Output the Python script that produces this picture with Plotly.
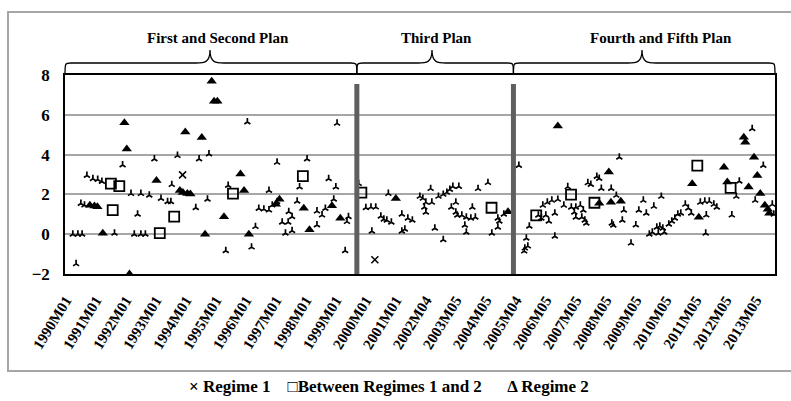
import plotly.graph_objects as go

# Observations by regime: x = time in decimal years, y = value
regime1_t = [1990.34, 1990.23, 1990.40, 1990.54, 1990.50, 1990.62, 1990.70, 1990.90, 1991.06, 1991.20,
             1991.62, 1991.89, 1992.17, 1992.28, 1992.39, 1992.50, 1992.50, 1992.65, 1992.78, 1992.95,
             1993.17, 1993.39, 1993.50, 1993.53, 1993.72, 1994.33, 1994.44, 1994.72, 1994.77, 1995.33,
             1995.41, 1996.05, 1996.19, 1996.32, 1996.43, 1996.60, 1996.77, 1996.77, 1996.88, 1997.04,
             1997.04, 1997.21, 1997.32, 1997.41, 1997.43, 1997.54, 1997.54, 1997.71, 1997.79, 1998.04,
             1998.37, 1998.37, 1998.54, 1998.65, 1998.76, 1998.93, 1999.00, 1999.04, 1999.31, 1999.37,
             1999.42,
             1999.76, 2000.00, 2000.17, 2000.33, 2000.20, 2000.50, 2000.60, 2000.75, 2000.70, 2000.85,
             2001.20, 2001.40, 2001.55, 2001.30, 2001.20, 2001.80, 2001.90, 2002.00, 2001.95, 2002.00,
             2002.16, 2002.30, 2002.58, 2002.20, 2002.42, 2002.58, 2002.70, 2002.80, 2002.90, 2003.10,
             2003.00, 2002.85, 2003.00, 2003.05, 2003.20, 2003.35, 2003.50, 2003.65, 2003.55, 2003.30,
             2003.35, 2003.74, 2004.07, 2004.40, 2004.45, 2004.40, 2004.60, 2004.20,
             2005.10, 2005.35, 2005.30, 2005.40, 2005.28, 2005.45, 2005.90, 2006.05, 2006.20, 2006.40,
             2006.73, 2005.75, 2005.85, 2006.00, 2006.10, 2006.30, 2006.30, 2006.60, 2006.85, 2007.00,
             2007.15, 2007.25, 2006.95, 2007.00, 2007.20, 2007.30, 2007.35, 2007.40, 2007.50, 2007.70,
             2007.78, 2008.45, 2007.85, 2008.18, 2008.35, 2008.60, 2008.55, 2008.84, 2008.20, 2008.25,
             2009.00, 2009.10, 2009.25, 2009.35, 2009.60, 2009.85, 2009.45, 2009.55, 2009.70, 2009.80,
             2009.90, 2009.95, 2010.10, 2010.20, 2010.30, 2010.40, 2010.50, 2010.65, 2010.75, 2010.85,
             2009.75, 2011.33, 2011.15, 2011.30, 2011.45, 2011.60, 2011.70, 2011.35, 2012.20, 2012.35,
             2012.45, 2012.88, 2013.25, 2012.98, 2013.55, 2013.60]
regime1_y = [-1.49, 0.00, 0.00, 0.00, 1.54, 1.46, 2.95, 2.79, 2.75, 2.65,
             0.05, 3.48, 2.04, 0.00, 1.00, 2.04, 0.00, 0.00, 1.96, 3.78,
             1.79, 1.63, 1.63, 2.49, 3.95, 1.33, 3.78, 1.76, 4.03, -0.83,
             2.45, 5.64, -0.65, 0.38, 1.29, 1.26, 1.21, 2.20, 1.46, 1.63,
             3.61, 0.60, 0.05, 0.60, 1.13, 0.88, 0.17, 1.66, 2.37, 3.78,
             1.16, 0.46, 0.96, 1.29, 2.79, 1.76, 2.37, 5.57, -0.83, 0.63,
             0.88,
             2.54, 1.33, 1.36, 1.36, 0.15, 0.90, 0.75, 2.04, 0.70, 0.60,
             1.00, 0.80, 0.70, 0.25, 0.15, 1.90, 1.80, 1.60, 1.35, 1.10,
             2.29, 0.30, -0.28, 1.60, 1.90, 2.00, 2.10, 2.25, 2.40, 2.40,
             1.60, 1.35, 1.10, 0.95, 0.95, 0.85, 0.80, 0.85, 1.35, 0.45,
             0.10, 2.29, 2.59, 0.80, 0.65, 0.35, 1.00, 0.05,
             3.45, -0.20, -0.70, -0.60, -0.85, 0.40, 1.45, 1.60, 1.70, 1.75,
             2.38, 0.95, 0.80, 0.95, 0.65, 1.05, -0.10, 1.45, 1.35, 1.35,
             1.45, 1.20, 1.10, 0.85, 0.85, 0.70, 0.55, 2.58, 2.50, 2.90,
             2.80, 3.87, 2.30, 2.30, 1.95, 1.20, 0.70, -0.45, 0.55, 0.45,
             0.46, 1.20, 1.70, 1.05, 1.40, 1.90, 0.00, 0.10, 0.35, 0.40,
             0.30, 0.10, 0.50, 0.65, 0.80, 1.00, 1.05, 1.50, 1.30, 1.05,
             0.05, 0.05, 1.60, 1.65, 1.65, 1.50, 1.35, 0.96, 0.96, 1.90,
             2.66, 5.30, 3.45, 1.70, 1.50, 1.00]

regime1x_t = [1993.89, 2000.30]
regime1x_y = [2.98, -1.28]

between_t = [1991.50, 1991.78, 1991.56, 1993.61, 1993.13, 1995.57, 1997.90,
             1999.85, 2004.19,
             2005.68, 2006.84, 2007.62, 2011.05, 2012.16]
between_y = [2.54, 2.42, 1.21, 0.88, 0.05, 2.04, 2.92,
             2.09, 1.33,
             0.95, 1.99, 1.58, 3.45, 2.33]

regime2_t = [1994.86, 1994.94, 1995.05, 1991.95, 1993.98, 1994.53, 1992.03, 1993.02, 1995.82, 1993.80,
             1993.90, 1994.05, 1994.15, 1995.94, 1990.80, 1990.95, 1991.05, 1995.27, 1997.12, 1997.00,
             1997.93, 1998.87, 1999.15, 1998.12, 1991.23, 1994.64, 1996.10, 1992.12,
             2001.00, 2004.74,
             2006.40, 2008.10, 2007.78, 2008.17, 2008.50, 2010.88, 2011.10, 2011.94, 2012.05, 2012.60,
             2012.65, 2012.76, 2012.94, 2013.05, 2013.15, 2013.30, 2013.40, 2013.45]
regime2_y = [7.68, 6.68, 6.68, 5.60, 5.14, 4.86, 4.28, 2.70, 3.03, 2.20,
             2.10, 2.05, 2.02, 2.20, 1.45, 1.42, 1.38, 0.88, 1.76, 1.50,
             1.30, 1.43, 0.80, 0.22, 0.05, 0.00, 0.00, -2.00,
             1.79, 1.13,
             5.44, 3.12, 1.55, 1.60, 1.65, 2.54, 0.85, 3.37, 2.62, 4.87,
             4.62, 2.37, 3.87, 2.95, 2.04, 1.45, 1.25, 1.05]

tick_years = list(range(1990, 2014))
tick_text = ["1990M01", "1991M01", "1992M01", "1993M01", "1994M01", "1995M01", "1996M01",
             "1997M01", "1998M01", "1999M01", "2000M01", "2001M01", "2002M04", "2003M05",
             "2004M05", "2005M04", "2006M05", "2007M05", "2008M05", "2009M05", "2010M05",
             "2011M05", "2012M05", "2013M05"]

plan_breaks = [1999.70, 2004.92]
plan_names = ["First and Second Plan", "Third Plan", "Fourth and Fifth Plan"]
legend_text = "\u00d7 Regime 1    \u25a1Between Regimes 1 and 2      \u0394 Regime 2"

X_MIN, X_MAX = 1989.97, 2013.64
Y_MIN, Y_MAX = -2, 8
FONT = "Liberation Serif, Times New Roman, serif"

fig = go.Figure()
fig.add_trace(go.Scatter(x=regime1_t, y=regime1_y, mode="markers", name="Regime 1",
                         marker=dict(symbol="y-up-open", size=5, color="black",
                                     line=dict(color="black", width=1.7))))
fig.add_trace(go.Scatter(x=regime1x_t, y=regime1x_y, mode="markers", name="Regime 1",
                         marker=dict(symbol="x-thin-open", size=7, color="black",
                                     line=dict(color="black", width=1.5))))
fig.add_trace(go.Scatter(x=between_t, y=between_y, mode="markers", name="Between Regimes 1 and 2",
                         marker=dict(symbol="square-open", size=10, color="black",
                                     line=dict(color="black", width=1.8))))
fig.add_trace(go.Scatter(x=regime2_t, y=regime2_y, mode="markers", name="Regime 2",
                         marker=dict(symbol="triangle-up", size=9, color="black")))

shapes = []
# dark vertical separators between plan periods
for b in plan_breaks:
    shapes.append(dict(type="line", xref="x", yref="y", x0=b, x1=b, y0=Y_MIN, y1=7.55,
                       line=dict(color="#5f5f5f", width=5), layer="above"))

# curly braces above the plot area, one per plan period
W, H = 710.0, 199.0
def px_x(year):
    return (year - X_MIN) / (X_MAX - X_MIN)

def brace(xa, xb, tip):
    ya, ym, yt = 0.0, 12.0 / H, 25.0 / H
    c = 6.0 / W
    t = 14.0 / W
    return (f"M {xa},{1+ya} C {xa},{1+ym} {xa},{1+ym} {xa+c},{1+ym} "
            f"L {tip-t},{1+ym} C {tip-c},{1+ym} {tip},{1+ym} {tip},{1+yt} "
            f"C {tip},{1+ym} {tip+c},{1+ym} {tip+t},{1+ym} "
            f"L {xb-c},{1+ym} C {xb},{1+ym} {xb},{1+ym} {xb},{1+ya}")

bounds = [X_MIN, plan_breaks[0], plan_breaks[1], X_MAX]
tips_px = [210, 432, 642]
label_px = [218, 436, 661]
annotations = []
for i in range(3):
    xa, xb = px_x(bounds[i]), px_x(bounds[i + 1])
    tip = (tips_px[i] - 65) / W
    shapes.append(dict(type="path", xref="paper", yref="paper", path=brace(xa, xb, tip),
                       line=dict(color="black", width=1.3)))
    annotations.append(dict(xref="paper", yref="paper", x=(label_px[i] - 65) / W, y=1 + 37.0 / H,
                            text=f"<b>{plan_names[i]}</b>", showarrow=False,
                            font=dict(family=FONT, size=15, color="black"),
                            xanchor="center", yanchor="middle"))

# outer frame around the whole chart
shapes.append(dict(type="rect", xref="paper", yref="paper",
                   x0=(8 - 65) / W, x1=(800 - 65) / W, y0=(274 - 371) / H, y1=(274 - 12) / H,
                   line=dict(color="#a6a6a6", width=2), layer="below"))

annotations.append(dict(xref="paper", yref="paper", x=(389 - 65) / W, y=(274 - 386) / H,
                        text=f"<b>{legend_text}</b>", showarrow=False,
                        font=dict(family=FONT, size=17, color="black"),
                        xanchor="center", yanchor="middle"))

fig.update_layout(
    width=791, height=401,
    margin=dict(l=65, r=16, t=75, b=127),
    paper_bgcolor="white", plot_bgcolor="white",
    showlegend=False,
    shapes=shapes, annotations=annotations,
    font=dict(family=FONT, color="black"),
)
fig.update_xaxes(range=[X_MIN, X_MAX], tickvals=tick_years, ticktext=tick_text,
                 tickangle=-58, tickfont=dict(family=FONT, size=15, color="black", weight="bold"),
                 showgrid=False, zeroline=False, showline=True, linecolor="black", linewidth=1.5,
                 mirror=True, ticks="", ticklabelstandoff=10)
fig.update_yaxes(range=[Y_MIN, Y_MAX], tickvals=[-2, 0, 2, 4, 6, 8],
                 ticktext=["\u22122", "0", "2", "4", "6", "8"],
                 tickfont=dict(family=FONT, size=17, color="black", weight="bold"),
                 showgrid=True, gridcolor="#a6a6a6", gridwidth=1.5, zeroline=False,
                 showline=True, linecolor="black", linewidth=1.5, mirror=True,
                 ticks="", ticklabelstandoff=10)

fig.write_html("out.html")
